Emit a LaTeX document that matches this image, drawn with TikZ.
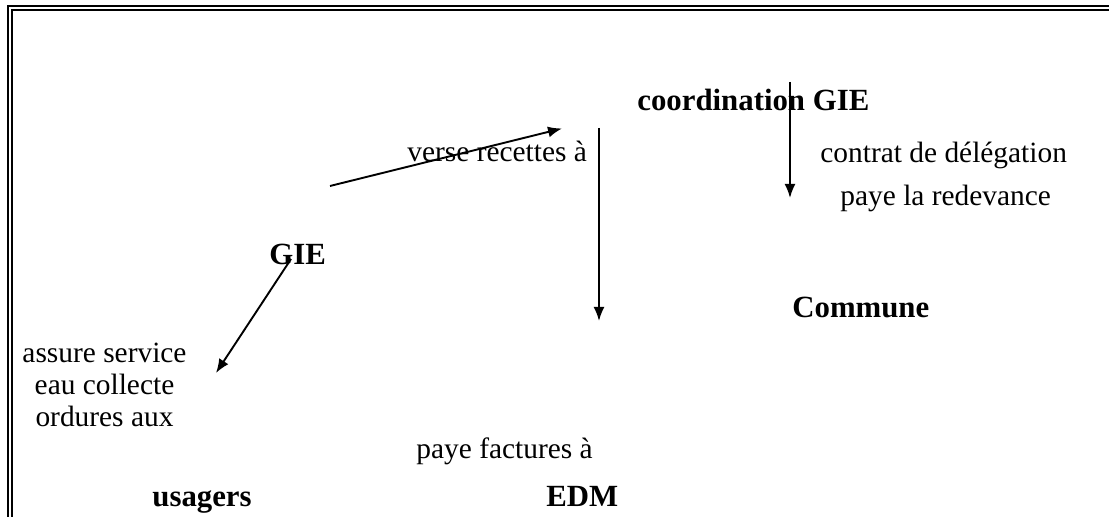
\documentclass[tikz,border=0pt]{standalone}
\usepackage{fontspec}
\setmainfont{Liberation Serif}
\usetikzlibrary{arrows.meta}
\begin{document}
\begin{tikzpicture}[x=0.5pt,y=-0.5pt,
  lbl/.style={inner sep=0pt,anchor=base west,font=\fontsize{14.7}{16.5}\selectfont},
  ent/.style={inner sep=0pt,anchor=base west,font=\fontsize{15.4}{18}\selectfont\bfseries},
  ctr/.style={inner sep=0pt,anchor=base,font=\fontsize{14.7}{16.5}\selectfont},
  frameline/.style={line width=1pt},
  flow/.style={line width=0.95pt,-{Latex[length=7pt,width=5.5pt]}}]
\useasboundingbox (0,0) rectangle (1109,517);
% double frame (top and left)
\draw[frameline] (8.3,517) -- (8.3,6.3) -- (1109,6.3);
\draw[frameline] (12.3,517) -- (12.3,10.3) -- (1109,10.3);
% entities
\node[ent] (coord) at (637,111) {coordination GIE};
\node[ent] (gie) at (269,265) {GIE};
\node[ent] (commune) at (792,318) {Commune};
\node[ent] (usagers) at (152,507) {usagers};
\node[ent] (edm) at (546,507) {EDM};
% labels
\node[lbl] (verse) at (407,162) {verse recettes à};
\node[lbl] (contrat) at (820,163) {contrat de délégation};
\node[lbl] (redev) at (840,206) {paye la redevance};
\node[lbl] (factures) at (416,459) {paye factures à};
\node[ctr] (as1) at (104.5,363) {assure service};
\node[ctr] (as2) at (104.5,395) {eau collecte};
\node[ctr] (as3) at (104.5,427) {ordures aux};
% connector ends
\coordinate (a1s) at (330,186);
\coordinate (a1e) at (562,128.5);
\coordinate (a2s) at (599,128);
\coordinate (a2e) at (599,321);
\coordinate (a3s) at (790,82);
\coordinate (a3e) at (790,198);
\coordinate (a4s) at (291,259);
\coordinate (a4e) at (216,373);
\draw[flow] (a1s) -- (a1e);
\draw[flow] (a2s) -- (a2e);
\draw[flow] (a3s) -- (a3e);
\draw[flow] (a4s) -- (a4e);
\end{tikzpicture}
\end{document}
